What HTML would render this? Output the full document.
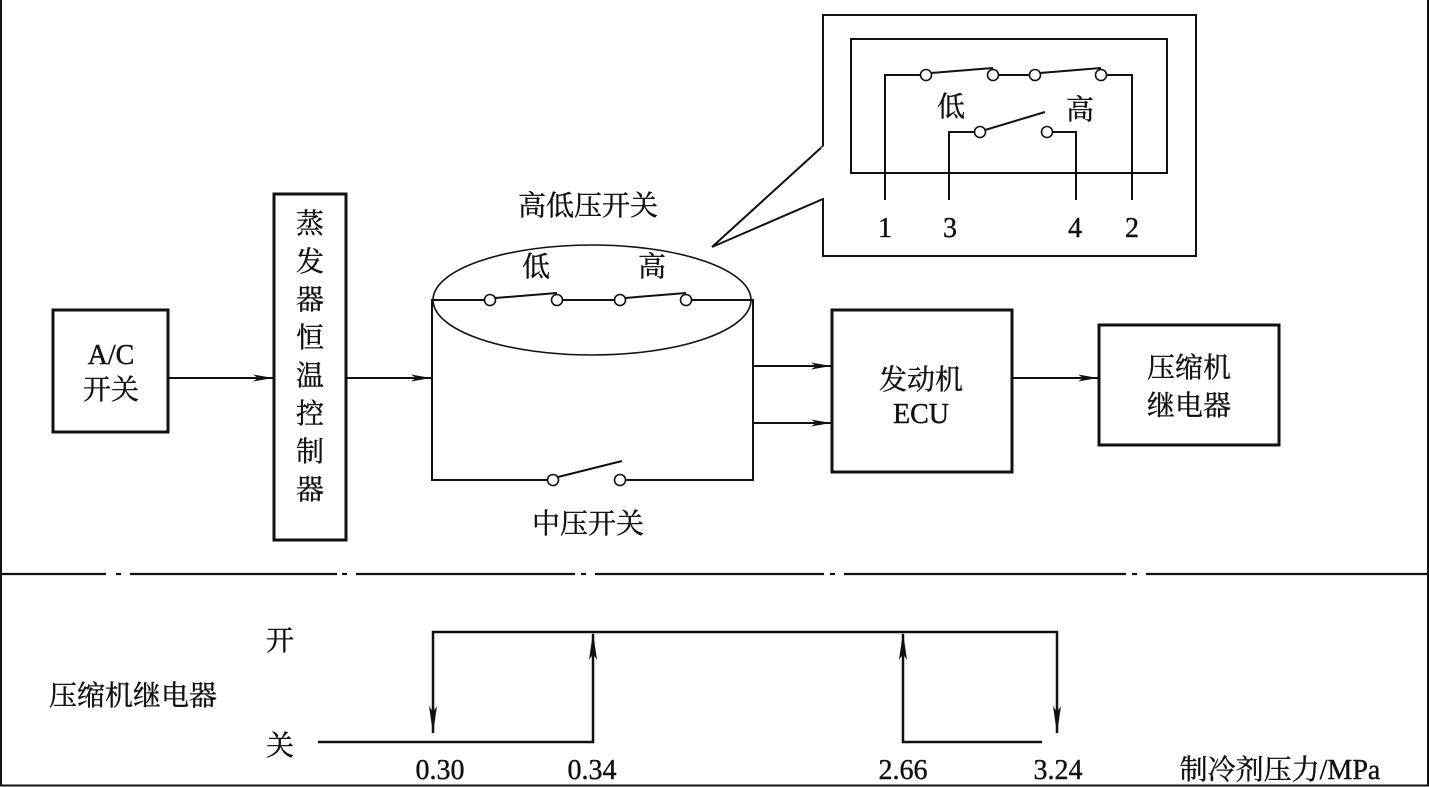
<!DOCTYPE html>
<html><head><meta charset="utf-8"><style>
html,body{margin:0;padding:0;background:#fff;}
svg{display:block;}
text{font-family:"Liberation Serif","Noto Serif CJK SC",serif;fill:#111;stroke:#111;stroke-width:0.4;}
</style></head><body>
<svg width="1429" height="787" viewBox="0 0 1429 787" xmlns="http://www.w3.org/2000/svg">
<defs>
<marker id="ar" markerWidth="22" markerHeight="10" refX="20" refY="5" orient="auto" markerUnits="userSpaceOnUse">
<path d="M0,1.5 L20,5 L0,8.5 L5,5 Z" fill="#111"/>
</marker>
</defs>
<g stroke="#111" stroke-width="2" fill="none">
<!-- frame -->
<line x1="1" y1="0" x2="1" y2="786"/>
<line x1="0" y1="785.5" x2="1429" y2="785.5"/>
<line x1="1428" y1="0" x2="1428" y2="786"/>
<g stroke-width="2.2">
<line x1="0" y1="574" x2="106" y2="574"/>
<line x1="116" y1="574" x2="121" y2="574"/>
<line x1="130" y1="574" x2="337" y2="574"/>
<line x1="342" y1="574" x2="347" y2="574"/>
<line x1="356" y1="574" x2="575" y2="574"/>
<line x1="581" y1="574" x2="586" y2="574"/>
<line x1="595" y1="574" x2="824" y2="574"/>
<line x1="830" y1="574" x2="835" y2="574"/>
<line x1="844" y1="574" x2="1126" y2="574"/>
<line x1="1132" y1="574" x2="1137" y2="574"/>
<line x1="1146" y1="574" x2="1429" y2="574"/>
</g>
<!-- boxes -->
<rect x="53" y="310" width="115" height="122" stroke-width="3"/>
<rect x="274" y="194" width="72" height="346" stroke-width="3"/>
<rect x="832" y="310" width="180" height="162" stroke-width="3"/>
<rect x="1099" y="325" width="180" height="120" stroke-width="3"/>
<!-- arrows -->
<line x1="168" y1="378" x2="273" y2="378" marker-end="url(#ar)"/>
<line x1="346" y1="378" x2="431" y2="378" marker-end="url(#ar)"/>
<line x1="753" y1="366" x2="831" y2="366" marker-end="url(#ar)"/>
<line x1="753" y1="423" x2="831" y2="423" marker-end="url(#ar)"/>
<line x1="1012" y1="378" x2="1098" y2="378" marker-end="url(#ar)"/>
<!-- circuit -->
<ellipse cx="592" cy="300" rx="159" ry="55" stroke-width="1.6"/>
<polyline points="490,300 432,300 432,480 553,480"/>
<polyline points="620,480 753,480 753,300 686,300"/>
<line x1="557" y1="300" x2="620" y2="300"/>
<line x1="495" y1="298" x2="557" y2="293"/>
<line x1="625" y1="298" x2="686" y2="293"/>
<line x1="558" y1="477" x2="622" y2="461"/>
</g>
<g stroke="#111" stroke-width="1.6" fill="#fff">
<circle cx="490" cy="300" r="5.5"/><circle cx="557" cy="300" r="5.5"/>
<circle cx="620" cy="300" r="5.5"/><circle cx="686" cy="300" r="5.5"/>
<circle cx="553" cy="480" r="5.5"/><circle cx="620" cy="480" r="5.5"/>
</g>
<!-- callout -->
<g stroke="#111" stroke-width="2" fill="none">
<polyline points="823,146 823,15 1196,15 1196,256 823,256 823,199 712,247 823,146"/>
<line x1="823" y1="147" x2="823" y2="198" stroke="#fff" stroke-width="3"/>
<rect x="851" y="39" width="316" height="134"/>
<polyline points="885,200 885,75 926,75"/>
<line x1="993" y1="75" x2="1035" y2="75"/>
<polyline points="1101,75 1132,75 1132,200"/>
<line x1="931" y1="73" x2="993" y2="68"/>
<line x1="1040" y1="73" x2="1101" y2="68"/>
<polyline points="949,200 949,132 980,132"/>
<polyline points="1047,132 1076,132 1076,200"/>
<line x1="985" y1="130" x2="1045" y2="112"/>
</g>
<g stroke="#111" stroke-width="1.6" fill="#fff">
<circle cx="926" cy="75" r="5.5"/><circle cx="993" cy="75" r="5.5"/>
<circle cx="1035" cy="75" r="5.5"/><circle cx="1101" cy="75" r="5.5"/>
<circle cx="980" cy="132" r="5.5"/><circle cx="1047" cy="132" r="5.5"/>
</g>
<!-- graph -->
<g stroke="#111" stroke-width="2.5" fill="none">
<polyline points="318,742 593,742 593,634"/>
<polyline points="433,733 433,632 1057,632 1057,733"/>
<polyline points="1042,742 903,742 903,634"/>
</g>
<g fill="#111">
<path d="M593,632 L589,660 L593,654 L597,660 Z"/>
<path d="M903,632 L899,660 L903,654 L907,660 Z"/>
<path d="M433,734 L429,706 L433,712 L437,706 Z"/>
<path d="M1057,734 L1053,706 L1057,712 L1061,706 Z"/>
</g>
<!-- text -->
<g font-size="28" text-anchor="middle">
<text x="111" y="364">A/C</text>
<text x="111" y="399">开关</text>
<text x="310" y="233">蒸</text><text x="310" y="271">发</text><text x="310" y="309">器</text>
<text x="310" y="347">恒</text><text x="310" y="385">温</text><text x="310" y="423">控</text>
<text x="310" y="461">制</text><text x="310" y="499">器</text>
<text x="588" y="215">高低压开关</text>
<text x="536" y="276">低</text><text x="652" y="276">高</text>
<text x="588" y="533">中压开关</text>
<text x="921" y="389">发动机</text><text x="921" y="423">ECU</text>
<text x="1189" y="377">压缩机</text><text x="1189" y="415">继电器</text>
<text x="951" y="116">低</text><text x="1080" y="119">高</text>
<text x="885" y="237">1</text><text x="950" y="237">3</text>
<text x="1075" y="237">4</text><text x="1132" y="237">2</text>
<text x="280" y="650">开</text><text x="280" y="755">关</text>
<text x="133" y="705">压缩机继电器</text>
<text x="440" y="779">0.30</text><text x="592" y="779">0.34</text>
<text x="903" y="779">2.66</text><text x="1058" y="779">3.24</text>
<text x="1280" y="779">制冷剂压力/MPa</text>
</g>
</svg>
</body></html>
